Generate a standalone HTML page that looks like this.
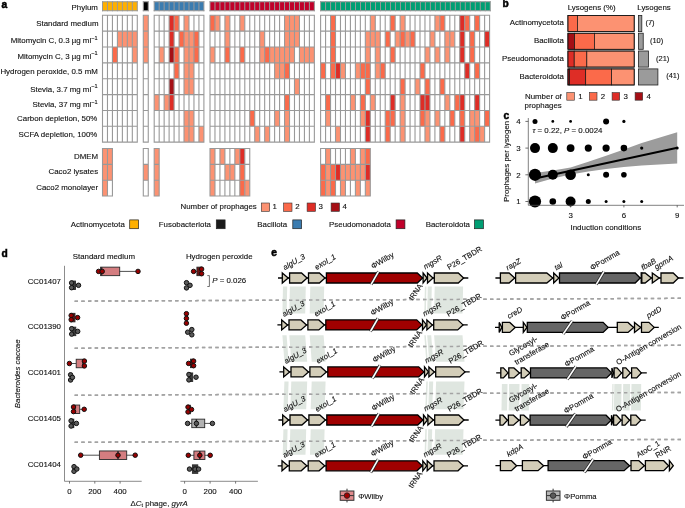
<!DOCTYPE html>
<html lang="en"><head><meta charset="utf-8"><title>Prophage induction figure</title>
<style>
html,body{margin:0;padding:0;background:#fff;}
body{width:685px;height:508px;overflow:hidden;font-family:"Liberation Sans",Arial,Helvetica,sans-serif;}
svg{display:block;}
</style></head><body>
<svg width="685" height="508" viewBox="0 0 685 508">
<rect width="685" height="508" fill="#fff"/>
<g id="panel-a">
<rect x="102.50" y="1.75" width="34.79" height="9" fill="#ffb000"/>
<path d="M102.50 1.25V11.25M107.47 1.25V11.25M112.44 1.25V11.25M117.41 1.25V11.25M122.38 1.25V11.25M127.35 1.25V11.25M132.32 1.25V11.25M137.29 1.25V11.25M102.00 1.75H137.79M102.00 10.75H137.79" stroke="#999999" stroke-width="1" fill="none"/>
<rect x="143.30" y="1.75" width="4.97" height="9" fill="#000000"/>
<path d="M143.30 1.25V11.25M148.27 1.25V11.25M142.80 1.75H148.77M142.80 10.75H148.77" stroke="#999999" stroke-width="1" fill="none"/>
<rect x="154.20" y="1.75" width="49.70" height="9" fill="#3b7cb0"/>
<path d="M154.20 1.25V11.25M159.17 1.25V11.25M164.14 1.25V11.25M169.11 1.25V11.25M174.08 1.25V11.25M179.05 1.25V11.25M184.02 1.25V11.25M188.99 1.25V11.25M193.96 1.25V11.25M198.93 1.25V11.25M203.90 1.25V11.25M153.70 1.75H204.40M153.70 10.75H204.40" stroke="#999999" stroke-width="1" fill="none"/>
<rect x="210.00" y="1.75" width="104.37" height="9" fill="#c0002a"/>
<path d="M210.00 1.25V11.25M214.97 1.25V11.25M219.94 1.25V11.25M224.91 1.25V11.25M229.88 1.25V11.25M234.85 1.25V11.25M239.82 1.25V11.25M244.79 1.25V11.25M249.76 1.25V11.25M254.73 1.25V11.25M259.70 1.25V11.25M264.67 1.25V11.25M269.64 1.25V11.25M274.61 1.25V11.25M279.58 1.25V11.25M284.55 1.25V11.25M289.52 1.25V11.25M294.49 1.25V11.25M299.46 1.25V11.25M304.43 1.25V11.25M309.40 1.25V11.25M314.37 1.25V11.25M209.50 1.75H314.87M209.50 10.75H314.87" stroke="#999999" stroke-width="1" fill="none"/>
<rect x="320.60" y="1.75" width="169.66" height="9" fill="#009e73"/>
<path d="M320.60 1.25V11.25M325.59 1.25V11.25M330.58 1.25V11.25M335.57 1.25V11.25M340.56 1.25V11.25M345.55 1.25V11.25M350.54 1.25V11.25M355.53 1.25V11.25M360.52 1.25V11.25M365.51 1.25V11.25M370.50 1.25V11.25M375.49 1.25V11.25M380.48 1.25V11.25M385.47 1.25V11.25M390.46 1.25V11.25M395.45 1.25V11.25M400.44 1.25V11.25M405.43 1.25V11.25M410.42 1.25V11.25M415.41 1.25V11.25M420.40 1.25V11.25M425.39 1.25V11.25M430.38 1.25V11.25M435.37 1.25V11.25M440.36 1.25V11.25M445.35 1.25V11.25M450.34 1.25V11.25M455.33 1.25V11.25M460.32 1.25V11.25M465.31 1.25V11.25M470.30 1.25V11.25M475.29 1.25V11.25M480.28 1.25V11.25M485.27 1.25V11.25M490.26 1.25V11.25M320.10 1.75H490.76M320.10 10.75H490.76" stroke="#999999" stroke-width="1" fill="none"/>
<rect x="102.50" y="15.30" width="34.79" height="126.85" fill="#fff"/>
<rect x="117.41" y="31.16" width="4.97" height="15.856" fill="#fc9272"/>
<rect x="122.38" y="31.16" width="4.97" height="15.856" fill="#fc9272"/>
<rect x="127.35" y="31.16" width="4.97" height="15.856" fill="#fc9272"/>
<rect x="132.32" y="31.16" width="4.97" height="15.856" fill="#fc9272"/>
<rect x="112.44" y="47.01" width="4.97" height="15.856" fill="#fb6a4a"/>
<rect x="132.32" y="47.01" width="4.97" height="15.856" fill="#fc9272"/>
<path d="M102.50 14.75V142.70M107.47 14.75V142.70M112.44 14.75V142.70M117.41 14.75V142.70M122.38 14.75V142.70M127.35 14.75V142.70M132.32 14.75V142.70M137.29 14.75V142.70M101.95 15.30H137.84M101.95 31.16H137.84M101.95 47.01H137.84M101.95 62.87H137.84M101.95 78.72H137.84M101.95 94.58H137.84M101.95 110.44H137.84M101.95 126.29H137.84M101.95 142.15H137.84" stroke="#999999" stroke-width="1.1" fill="none"/>
<rect x="102.50" y="148.50" width="9.94" height="47.57" fill="#fff"/>
<rect x="102.50" y="148.50" width="4.97" height="15.856" fill="#fc9272"/>
<rect x="107.47" y="148.50" width="4.97" height="15.856" fill="#fc9272"/>
<rect x="102.50" y="164.36" width="4.97" height="15.856" fill="#fc9272"/>
<rect x="107.47" y="164.36" width="4.97" height="15.856" fill="#fc9272"/>
<rect x="102.50" y="180.21" width="4.97" height="15.856" fill="#fc9272"/>
<path d="M102.50 147.95V196.62M107.47 147.95V196.62M112.44 147.95V196.62M101.95 148.50H112.99M101.95 164.36H112.99M101.95 180.21H112.99M101.95 196.07H112.99" stroke="#999999" stroke-width="1.1" fill="none"/>
<rect x="143.30" y="15.30" width="4.97" height="126.85" fill="#fff"/>
<rect x="143.30" y="15.30" width="4.97" height="15.856" fill="#fc9272"/>
<rect x="143.30" y="31.16" width="4.97" height="15.856" fill="#fc9272"/>
<rect x="143.30" y="47.01" width="4.97" height="15.856" fill="#fc9272"/>
<path d="M143.30 14.75V142.70M148.27 14.75V142.70M142.75 15.30H148.82M142.75 31.16H148.82M142.75 47.01H148.82M142.75 62.87H148.82M142.75 78.72H148.82M142.75 94.58H148.82M142.75 110.44H148.82M142.75 126.29H148.82M142.75 142.15H148.82" stroke="#999999" stroke-width="1.1" fill="none"/>
<rect x="143.30" y="148.50" width="4.97" height="47.57" fill="#fff"/>
<rect x="143.30" y="164.36" width="4.97" height="15.856" fill="#fc9272"/>
<path d="M143.30 147.95V196.62M148.27 147.95V196.62M142.75 148.50H148.82M142.75 164.36H148.82M142.75 180.21H148.82M142.75 196.07H148.82" stroke="#999999" stroke-width="1.1" fill="none"/>
<rect x="154.20" y="15.30" width="49.70" height="126.85" fill="#fff"/>
<rect x="169.11" y="15.30" width="4.97" height="15.856" fill="#de2d26"/>
<rect x="174.08" y="15.30" width="4.97" height="15.856" fill="#fb6a4a"/>
<rect x="184.02" y="15.30" width="4.97" height="15.856" fill="#fc9272"/>
<rect x="169.11" y="31.16" width="4.97" height="15.856" fill="#de2d26"/>
<rect x="179.05" y="31.16" width="4.97" height="15.856" fill="#fb6a4a"/>
<rect x="184.02" y="31.16" width="4.97" height="15.856" fill="#fc9272"/>
<rect x="188.99" y="31.16" width="4.97" height="15.856" fill="#fc9272"/>
<rect x="193.96" y="31.16" width="4.97" height="15.856" fill="#fb6a4a"/>
<rect x="159.17" y="47.01" width="4.97" height="15.856" fill="#fc9272"/>
<rect x="169.11" y="47.01" width="4.97" height="15.856" fill="#a50f15"/>
<rect x="174.08" y="47.01" width="4.97" height="15.856" fill="#fb6a4a"/>
<rect x="184.02" y="47.01" width="4.97" height="15.856" fill="#fc9272"/>
<rect x="188.99" y="47.01" width="4.97" height="15.856" fill="#fc9272"/>
<rect x="193.96" y="47.01" width="4.97" height="15.856" fill="#fb6a4a"/>
<rect x="174.08" y="62.87" width="4.97" height="15.856" fill="#fb6a4a"/>
<rect x="184.02" y="62.87" width="4.97" height="15.856" fill="#fc9272"/>
<rect x="188.99" y="62.87" width="4.97" height="15.856" fill="#fc9272"/>
<rect x="169.11" y="78.72" width="4.97" height="15.856" fill="#a50f15"/>
<rect x="184.02" y="78.72" width="4.97" height="15.856" fill="#fc9272"/>
<rect x="188.99" y="78.72" width="4.97" height="15.856" fill="#fc9272"/>
<rect x="154.20" y="94.58" width="4.97" height="15.856" fill="#fc9272"/>
<rect x="164.14" y="94.58" width="4.97" height="15.856" fill="#fc9272"/>
<rect x="169.11" y="94.58" width="4.97" height="15.856" fill="#de2d26"/>
<rect x="184.02" y="110.44" width="4.97" height="15.856" fill="#fc9272"/>
<rect x="188.99" y="110.44" width="4.97" height="15.856" fill="#fc9272"/>
<rect x="184.02" y="126.29" width="4.97" height="15.856" fill="#fc9272"/>
<rect x="188.99" y="126.29" width="4.97" height="15.856" fill="#fc9272"/>
<rect x="198.93" y="126.29" width="4.97" height="15.856" fill="#fc9272"/>
<path d="M154.20 14.75V142.70M159.17 14.75V142.70M164.14 14.75V142.70M169.11 14.75V142.70M174.08 14.75V142.70M179.05 14.75V142.70M184.02 14.75V142.70M188.99 14.75V142.70M193.96 14.75V142.70M198.93 14.75V142.70M203.90 14.75V142.70M153.65 15.30H204.45M153.65 31.16H204.45M153.65 47.01H204.45M153.65 62.87H204.45M153.65 78.72H204.45M153.65 94.58H204.45M153.65 110.44H204.45M153.65 126.29H204.45M153.65 142.15H204.45" stroke="#999999" stroke-width="1.1" fill="none"/>
<rect x="154.20" y="148.50" width="4.97" height="47.57" fill="#fff"/>
<rect x="154.20" y="148.50" width="4.97" height="15.856" fill="#fc9272"/>
<rect x="154.20" y="164.36" width="4.97" height="15.856" fill="#fc9272"/>
<rect x="154.20" y="180.21" width="4.97" height="15.856" fill="#fc9272"/>
<path d="M154.20 147.95V196.62M159.17 147.95V196.62M153.65 148.50H159.72M153.65 164.36H159.72M153.65 180.21H159.72M153.65 196.07H159.72" stroke="#999999" stroke-width="1.1" fill="none"/>
<rect x="210.00" y="15.30" width="104.37" height="126.85" fill="#fff"/>
<rect x="210.00" y="15.30" width="4.97" height="15.856" fill="#fb6a4a"/>
<rect x="214.97" y="15.30" width="4.97" height="15.856" fill="#fc9272"/>
<rect x="224.91" y="15.30" width="4.97" height="15.856" fill="#fc9272"/>
<rect x="239.82" y="15.30" width="4.97" height="15.856" fill="#fc9272"/>
<rect x="284.55" y="15.30" width="4.97" height="15.856" fill="#fc9272"/>
<rect x="289.52" y="15.30" width="4.97" height="15.856" fill="#fc9272"/>
<rect x="294.49" y="15.30" width="4.97" height="15.856" fill="#fc9272"/>
<rect x="224.91" y="31.16" width="4.97" height="15.856" fill="#fc9272"/>
<rect x="259.70" y="31.16" width="4.97" height="15.856" fill="#fc9272"/>
<rect x="284.55" y="31.16" width="4.97" height="15.856" fill="#fc9272"/>
<rect x="289.52" y="31.16" width="4.97" height="15.856" fill="#fc9272"/>
<rect x="294.49" y="31.16" width="4.97" height="15.856" fill="#fc9272"/>
<rect x="210.00" y="47.01" width="4.97" height="15.856" fill="#fc9272"/>
<rect x="224.91" y="47.01" width="4.97" height="15.856" fill="#fb6a4a"/>
<rect x="239.82" y="47.01" width="4.97" height="15.856" fill="#fb6a4a"/>
<rect x="259.70" y="47.01" width="4.97" height="15.856" fill="#fc9272"/>
<rect x="264.67" y="47.01" width="4.97" height="15.856" fill="#fb6a4a"/>
<rect x="269.64" y="47.01" width="4.97" height="15.856" fill="#fc9272"/>
<rect x="274.61" y="47.01" width="4.97" height="15.856" fill="#fc9272"/>
<rect x="279.58" y="47.01" width="4.97" height="15.856" fill="#fc9272"/>
<rect x="284.55" y="47.01" width="4.97" height="15.856" fill="#fc9272"/>
<rect x="289.52" y="47.01" width="4.97" height="15.856" fill="#fc9272"/>
<rect x="299.46" y="47.01" width="4.97" height="15.856" fill="#fc9272"/>
<rect x="304.43" y="47.01" width="4.97" height="15.856" fill="#fc9272"/>
<rect x="309.40" y="47.01" width="4.97" height="15.856" fill="#fc9272"/>
<rect x="274.61" y="62.87" width="4.97" height="15.856" fill="#fc9272"/>
<rect x="279.58" y="62.87" width="4.97" height="15.856" fill="#fc9272"/>
<rect x="284.55" y="62.87" width="4.97" height="15.856" fill="#fb6a4a"/>
<rect x="294.49" y="78.72" width="4.97" height="15.856" fill="#fc9272"/>
<rect x="284.55" y="94.58" width="4.97" height="15.856" fill="#fb6a4a"/>
<rect x="249.76" y="110.44" width="4.97" height="15.856" fill="#fb6a4a"/>
<rect x="274.61" y="110.44" width="4.97" height="15.856" fill="#fc9272"/>
<rect x="284.55" y="110.44" width="4.97" height="15.856" fill="#fc9272"/>
<rect x="254.73" y="126.29" width="4.97" height="15.856" fill="#fc9272"/>
<rect x="264.67" y="126.29" width="4.97" height="15.856" fill="#fc9272"/>
<rect x="284.55" y="126.29" width="4.97" height="15.856" fill="#fc9272"/>
<path d="M210.00 14.75V142.70M214.97 14.75V142.70M219.94 14.75V142.70M224.91 14.75V142.70M229.88 14.75V142.70M234.85 14.75V142.70M239.82 14.75V142.70M244.79 14.75V142.70M249.76 14.75V142.70M254.73 14.75V142.70M259.70 14.75V142.70M264.67 14.75V142.70M269.64 14.75V142.70M274.61 14.75V142.70M279.58 14.75V142.70M284.55 14.75V142.70M289.52 14.75V142.70M294.49 14.75V142.70M299.46 14.75V142.70M304.43 14.75V142.70M309.40 14.75V142.70M314.37 14.75V142.70M209.45 15.30H314.92M209.45 31.16H314.92M209.45 47.01H314.92M209.45 62.87H314.92M209.45 78.72H314.92M209.45 94.58H314.92M209.45 110.44H314.92M209.45 126.29H314.92M209.45 142.15H314.92" stroke="#999999" stroke-width="1.1" fill="none"/>
<rect x="210.00" y="148.50" width="39.76" height="47.57" fill="#fff"/>
<rect x="210.00" y="148.50" width="4.97" height="15.856" fill="#fc9272"/>
<rect x="219.94" y="148.50" width="4.97" height="15.856" fill="#fc9272"/>
<rect x="234.85" y="148.50" width="4.97" height="15.856" fill="#fc9272"/>
<rect x="239.82" y="148.50" width="4.97" height="15.856" fill="#de2d26"/>
<rect x="210.00" y="164.36" width="4.97" height="15.856" fill="#fc9272"/>
<rect x="224.91" y="164.36" width="4.97" height="15.856" fill="#fc9272"/>
<rect x="229.88" y="164.36" width="4.97" height="15.856" fill="#fc9272"/>
<rect x="239.82" y="164.36" width="4.97" height="15.856" fill="#fb6a4a"/>
<rect x="210.00" y="180.21" width="4.97" height="15.856" fill="#fc9272"/>
<rect x="239.82" y="180.21" width="4.97" height="15.856" fill="#fb6a4a"/>
<rect x="244.79" y="180.21" width="4.97" height="15.856" fill="#fc9272"/>
<path d="M210.00 147.95V196.62M214.97 147.95V196.62M219.94 147.95V196.62M224.91 147.95V196.62M229.88 147.95V196.62M234.85 147.95V196.62M239.82 147.95V196.62M244.79 147.95V196.62M249.76 147.95V196.62M209.45 148.50H250.31M209.45 164.36H250.31M209.45 180.21H250.31M209.45 196.07H250.31" stroke="#999999" stroke-width="1.1" fill="none"/>
<rect x="320.60" y="15.30" width="168.98" height="126.85" fill="#fff"/>
<rect x="330.54" y="15.30" width="4.97" height="15.856" fill="#fb6a4a"/>
<rect x="370.30" y="15.30" width="4.97" height="15.856" fill="#fc9272"/>
<rect x="390.18" y="15.30" width="4.97" height="15.856" fill="#fb6a4a"/>
<rect x="400.12" y="15.30" width="4.97" height="15.856" fill="#fc9272"/>
<rect x="434.91" y="15.30" width="4.97" height="15.856" fill="#fc9272"/>
<rect x="439.88" y="15.30" width="4.97" height="15.856" fill="#fb6a4a"/>
<rect x="459.76" y="15.30" width="4.97" height="15.856" fill="#de2d26"/>
<rect x="464.73" y="15.30" width="4.97" height="15.856" fill="#fb6a4a"/>
<rect x="474.67" y="15.30" width="4.97" height="15.856" fill="#fb6a4a"/>
<rect x="330.54" y="31.16" width="4.97" height="15.856" fill="#fb6a4a"/>
<rect x="365.33" y="31.16" width="4.97" height="15.856" fill="#fc9272"/>
<rect x="370.30" y="31.16" width="4.97" height="15.856" fill="#fc9272"/>
<rect x="375.27" y="31.16" width="4.97" height="15.856" fill="#fc9272"/>
<rect x="385.21" y="31.16" width="4.97" height="15.856" fill="#fb6a4a"/>
<rect x="395.15" y="31.16" width="4.97" height="15.856" fill="#fc9272"/>
<rect x="400.12" y="31.16" width="4.97" height="15.856" fill="#fb6a4a"/>
<rect x="405.09" y="31.16" width="4.97" height="15.856" fill="#fc9272"/>
<rect x="410.06" y="31.16" width="4.97" height="15.856" fill="#fb6a4a"/>
<rect x="429.94" y="31.16" width="4.97" height="15.856" fill="#fc9272"/>
<rect x="444.85" y="31.16" width="4.97" height="15.856" fill="#fc9272"/>
<rect x="449.82" y="31.16" width="4.97" height="15.856" fill="#fc9272"/>
<rect x="459.76" y="31.16" width="4.97" height="15.856" fill="#de2d26"/>
<rect x="469.70" y="31.16" width="4.97" height="15.856" fill="#fb6a4a"/>
<rect x="484.61" y="31.16" width="4.97" height="15.856" fill="#de2d26"/>
<rect x="330.54" y="47.01" width="4.97" height="15.856" fill="#fb6a4a"/>
<rect x="365.33" y="47.01" width="4.97" height="15.856" fill="#fc9272"/>
<rect x="375.27" y="47.01" width="4.97" height="15.856" fill="#fc9272"/>
<rect x="390.18" y="47.01" width="4.97" height="15.856" fill="#fb6a4a"/>
<rect x="424.97" y="47.01" width="4.97" height="15.856" fill="#fc9272"/>
<rect x="434.91" y="47.01" width="4.97" height="15.856" fill="#fc9272"/>
<rect x="444.85" y="47.01" width="4.97" height="15.856" fill="#fc9272"/>
<rect x="459.76" y="47.01" width="4.97" height="15.856" fill="#de2d26"/>
<rect x="469.70" y="47.01" width="4.97" height="15.856" fill="#fb6a4a"/>
<rect x="320.60" y="62.87" width="4.97" height="15.856" fill="#fb6a4a"/>
<rect x="330.54" y="62.87" width="4.97" height="15.856" fill="#fb6a4a"/>
<rect x="335.51" y="62.87" width="4.97" height="15.856" fill="#de2d26"/>
<rect x="340.48" y="62.87" width="4.97" height="15.856" fill="#fc9272"/>
<rect x="355.39" y="62.87" width="4.97" height="15.856" fill="#fc9272"/>
<rect x="360.36" y="62.87" width="4.97" height="15.856" fill="#fb6a4a"/>
<rect x="365.33" y="62.87" width="4.97" height="15.856" fill="#fb6a4a"/>
<rect x="375.27" y="62.87" width="4.97" height="15.856" fill="#fc9272"/>
<rect x="380.24" y="62.87" width="4.97" height="15.856" fill="#fb6a4a"/>
<rect x="420.00" y="62.87" width="4.97" height="15.856" fill="#fb6a4a"/>
<rect x="464.73" y="62.87" width="4.97" height="15.856" fill="#de2d26"/>
<rect x="474.67" y="62.87" width="4.97" height="15.856" fill="#fb6a4a"/>
<rect x="365.33" y="78.72" width="4.97" height="15.856" fill="#fb6a4a"/>
<rect x="400.12" y="78.72" width="4.97" height="15.856" fill="#fb6a4a"/>
<rect x="415.03" y="78.72" width="4.97" height="15.856" fill="#fc9272"/>
<rect x="424.97" y="78.72" width="4.97" height="15.856" fill="#fb6a4a"/>
<rect x="439.88" y="78.72" width="4.97" height="15.856" fill="#fb6a4a"/>
<rect x="325.57" y="94.58" width="4.97" height="15.856" fill="#fb6a4a"/>
<rect x="350.42" y="94.58" width="4.97" height="15.856" fill="#fc9272"/>
<rect x="360.36" y="94.58" width="4.97" height="15.856" fill="#fb6a4a"/>
<rect x="370.30" y="94.58" width="4.97" height="15.856" fill="#fc9272"/>
<rect x="390.18" y="94.58" width="4.97" height="15.856" fill="#de2d26"/>
<rect x="400.12" y="94.58" width="4.97" height="15.856" fill="#fc9272"/>
<rect x="420.00" y="94.58" width="4.97" height="15.856" fill="#de2d26"/>
<rect x="424.97" y="94.58" width="4.97" height="15.856" fill="#de2d26"/>
<rect x="444.85" y="94.58" width="4.97" height="15.856" fill="#fc9272"/>
<rect x="454.79" y="94.58" width="4.97" height="15.856" fill="#fb6a4a"/>
<rect x="459.76" y="94.58" width="4.97" height="15.856" fill="#de2d26"/>
<rect x="474.67" y="94.58" width="4.97" height="15.856" fill="#de2d26"/>
<rect x="325.57" y="110.44" width="4.97" height="15.856" fill="#fc9272"/>
<rect x="360.36" y="110.44" width="4.97" height="15.856" fill="#fc9272"/>
<rect x="365.33" y="110.44" width="4.97" height="15.856" fill="#de2d26"/>
<rect x="385.21" y="110.44" width="4.97" height="15.856" fill="#fb6a4a"/>
<rect x="390.18" y="110.44" width="4.97" height="15.856" fill="#fb6a4a"/>
<rect x="400.12" y="110.44" width="4.97" height="15.856" fill="#fc9272"/>
<rect x="420.00" y="110.44" width="4.97" height="15.856" fill="#fb6a4a"/>
<rect x="424.97" y="110.44" width="4.97" height="15.856" fill="#fc9272"/>
<rect x="434.91" y="110.44" width="4.97" height="15.856" fill="#fc9272"/>
<rect x="449.82" y="110.44" width="4.97" height="15.856" fill="#fb6a4a"/>
<rect x="459.76" y="110.44" width="4.97" height="15.856" fill="#fb6a4a"/>
<rect x="469.70" y="110.44" width="4.97" height="15.856" fill="#fc9272"/>
<rect x="474.67" y="110.44" width="4.97" height="15.856" fill="#fc9272"/>
<rect x="484.61" y="110.44" width="4.97" height="15.856" fill="#fb6a4a"/>
<rect x="335.51" y="126.29" width="4.97" height="15.856" fill="#fc9272"/>
<rect x="365.33" y="126.29" width="4.97" height="15.856" fill="#de2d26"/>
<rect x="385.21" y="126.29" width="4.97" height="15.856" fill="#fb6a4a"/>
<rect x="400.12" y="126.29" width="4.97" height="15.856" fill="#fc9272"/>
<rect x="424.97" y="126.29" width="4.97" height="15.856" fill="#fc9272"/>
<rect x="439.88" y="126.29" width="4.97" height="15.856" fill="#fb6a4a"/>
<rect x="459.76" y="126.29" width="4.97" height="15.856" fill="#de2d26"/>
<rect x="469.70" y="126.29" width="4.97" height="15.856" fill="#fc9272"/>
<rect x="474.67" y="126.29" width="4.97" height="15.856" fill="#fb6a4a"/>
<rect x="479.64" y="126.29" width="4.97" height="15.856" fill="#fc9272"/>
<path d="M320.60 14.75V142.70M325.57 14.75V142.70M330.54 14.75V142.70M335.51 14.75V142.70M340.48 14.75V142.70M345.45 14.75V142.70M350.42 14.75V142.70M355.39 14.75V142.70M360.36 14.75V142.70M365.33 14.75V142.70M370.30 14.75V142.70M375.27 14.75V142.70M380.24 14.75V142.70M385.21 14.75V142.70M390.18 14.75V142.70M395.15 14.75V142.70M400.12 14.75V142.70M405.09 14.75V142.70M410.06 14.75V142.70M415.03 14.75V142.70M420.00 14.75V142.70M424.97 14.75V142.70M429.94 14.75V142.70M434.91 14.75V142.70M439.88 14.75V142.70M444.85 14.75V142.70M449.82 14.75V142.70M454.79 14.75V142.70M459.76 14.75V142.70M464.73 14.75V142.70M469.70 14.75V142.70M474.67 14.75V142.70M479.64 14.75V142.70M484.61 14.75V142.70M489.58 14.75V142.70M320.05 15.30H490.13M320.05 31.16H490.13M320.05 47.01H490.13M320.05 62.87H490.13M320.05 78.72H490.13M320.05 94.58H490.13M320.05 110.44H490.13M320.05 126.29H490.13M320.05 142.15H490.13" stroke="#999999" stroke-width="1.1" fill="none"/>
<rect x="320.60" y="148.50" width="49.70" height="47.57" fill="#fff"/>
<rect x="325.57" y="148.50" width="4.97" height="15.856" fill="#fc9272"/>
<rect x="350.42" y="148.50" width="4.97" height="15.856" fill="#fc9272"/>
<rect x="360.36" y="148.50" width="4.97" height="15.856" fill="#fc9272"/>
<rect x="365.33" y="148.50" width="4.97" height="15.856" fill="#fb6a4a"/>
<rect x="320.60" y="164.36" width="4.97" height="15.856" fill="#fb6a4a"/>
<rect x="325.57" y="164.36" width="4.97" height="15.856" fill="#fc9272"/>
<rect x="330.54" y="164.36" width="4.97" height="15.856" fill="#fb6a4a"/>
<rect x="335.51" y="164.36" width="4.97" height="15.856" fill="#de2d26"/>
<rect x="340.48" y="164.36" width="4.97" height="15.856" fill="#fc9272"/>
<rect x="345.45" y="164.36" width="4.97" height="15.856" fill="#fc9272"/>
<rect x="350.42" y="164.36" width="4.97" height="15.856" fill="#fc9272"/>
<rect x="355.39" y="164.36" width="4.97" height="15.856" fill="#fc9272"/>
<rect x="360.36" y="164.36" width="4.97" height="15.856" fill="#fc9272"/>
<rect x="365.33" y="164.36" width="4.97" height="15.856" fill="#de2d26"/>
<rect x="320.60" y="180.21" width="4.97" height="15.856" fill="#fb6a4a"/>
<rect x="325.57" y="180.21" width="4.97" height="15.856" fill="#fc9272"/>
<rect x="330.54" y="180.21" width="4.97" height="15.856" fill="#fb6a4a"/>
<rect x="340.48" y="180.21" width="4.97" height="15.856" fill="#fc9272"/>
<rect x="355.39" y="180.21" width="4.97" height="15.856" fill="#fc9272"/>
<rect x="365.33" y="180.21" width="4.97" height="15.856" fill="#fc9272"/>
<path d="M320.60 147.95V196.62M325.57 147.95V196.62M330.54 147.95V196.62M335.51 147.95V196.62M340.48 147.95V196.62M345.45 147.95V196.62M350.42 147.95V196.62M355.39 147.95V196.62M360.36 147.95V196.62M365.33 147.95V196.62M370.30 147.95V196.62M320.05 148.50H370.85M320.05 164.36H370.85M320.05 180.21H370.85M320.05 196.07H370.85" stroke="#999999" stroke-width="1.1" fill="none"/>
<g font-family="Liberation Sans, Arial, Helvetica, sans-serif" font-size="7.9" fill="#111" stroke="#111" stroke-width="0.12" text-anchor="end">
<text x="97.9" y="9.7">Phylum</text>
<text x="98.5" y="25.7">Standard medium</text>
<text x="97.6" y="43.1">Mitomycin C, 0.3 µg ml<tspan dy="-3.6" font-size="5.6">−1</tspan></text>
<text x="97.6" y="58.7">Mitomycin C, 3 µg ml<tspan dy="-3.6" font-size="5.6">−1</tspan></text>
<text x="97.8" y="73.7">Hydrogen peroxide, 0.5 mM</text>
<text x="97.6" y="91.7">Stevia, 3.7 mg ml<tspan dy="-3.6" font-size="5.6">−1</tspan></text>
<text x="97.6" y="107.4">Stevia, 37 mg ml<tspan dy="-3.6" font-size="5.6">−1</tspan></text>
<text x="97.4" y="121.3">Carbon depletion, 50%</text>
<text x="97.4" y="136.9">SCFA depletion, 100%</text>
<text x="98.1" y="159.3">DMEM</text>
<text x="98.1" y="174.3">Caco2 lysates</text>
<text x="98.1" y="190.0">Caco2 monolayer</text>
</g>
<text x="1.6" y="8" font-family="Liberation Sans, Arial, Helvetica, sans-serif" font-size="10.2" font-weight="bold" fill="#000" stroke="#000" stroke-width="0.5">a</text>
<g font-family="Liberation Sans, Arial, Helvetica, sans-serif" font-size="7.9" fill="#111" stroke="#111" stroke-width="0.12">
<text x="256.8" y="209.3" text-anchor="end">Number of prophages</text>
<rect x="261.3" y="203" width="8.4" height="8.4" fill="#fc9272" stroke="#333" stroke-width="0.6"/>
<text x="272.6" y="209.4">1</text>
<rect x="283.6" y="203" width="8.4" height="8.4" fill="#fb6a4a" stroke="#333" stroke-width="0.6"/>
<text x="295.2" y="209.4">2</text>
<rect x="307.1" y="203" width="8.4" height="8.4" fill="#de2d26" stroke="#333" stroke-width="0.6"/>
<text x="318.4" y="209.4">3</text>
<rect x="331.1" y="203" width="8.4" height="8.4" fill="#a50f15" stroke="#333" stroke-width="0.6"/>
<text x="342.6" y="209.4">4</text>
<text x="124.8" y="226.9" text-anchor="end">Actinomycetota</text>
<rect x="129.7" y="219.9" width="8.8" height="8.8" fill="#ffb000" stroke="#222" stroke-width="0.7"/>
<text x="211" y="226.9" text-anchor="end">Fusobacteriota</text>
<rect x="216.3" y="219.9" width="8.8" height="8.8" fill="#1a1a1a" stroke="#222" stroke-width="0.7"/>
<text x="287.2" y="226.9" text-anchor="end">Bacillota</text>
<rect x="292.8" y="219.9" width="8.8" height="8.8" fill="#3b7cb0" stroke="#222" stroke-width="0.7"/>
<text x="390.9" y="226.9" text-anchor="end">Pseudomonadota</text>
<rect x="396.1" y="219.9" width="8.8" height="8.8" fill="#c0002a" stroke="#222" stroke-width="0.7"/>
<text x="470" y="226.9" text-anchor="end">Bacteroidota</text>
<rect x="474.6" y="219.9" width="8.8" height="8.8" fill="#009e73" stroke="#222" stroke-width="0.7"/>
</g>
</g>
<g id="panel-b">
<text x="502.6" y="7.4" font-family="Liberation Sans, Arial, Helvetica, sans-serif" font-size="10.2" font-weight="bold" fill="#000" stroke="#000" stroke-width="0.5">b</text>
<g font-family="Liberation Sans, Arial, Helvetica, sans-serif" font-size="7.9" fill="#111" stroke="#111" stroke-width="0.12">
<text x="567.7" y="10.2">Lysogens (%)</text>
<text x="637.3" y="10.2">Lysogens</text>
<rect x="567.90" y="15.5" width="9.47" height="16.1" fill="#fb6a4a" stroke="#111" stroke-width="0.7"/>
<rect x="577.37" y="15.5" width="56.83" height="16.1" fill="#fc9272" stroke="#111" stroke-width="0.7"/>
<rect x="567.90" y="15.5" width="66.30" height="16.1" fill="none" stroke="#111" stroke-width="0.75"/>
<rect x="638.5" y="15.5" width="3.31" height="16.1" fill="#9b9b9b" stroke="#222" stroke-width="0.8"/>
<text x="563.8" y="25.25" text-anchor="end">Actinomycetota</text>
<text x="645.4" y="25.05" font-size="7.5">(7)</text>
<rect x="567.90" y="33.2" width="6.63" height="16.1" fill="#a50f15" stroke="#111" stroke-width="0.7"/>
<rect x="574.53" y="33.2" width="19.89" height="16.1" fill="#fb6a4a" stroke="#111" stroke-width="0.7"/>
<rect x="594.42" y="33.2" width="39.78" height="16.1" fill="#fc9272" stroke="#111" stroke-width="0.7"/>
<rect x="567.90" y="33.2" width="66.30" height="16.1" fill="none" stroke="#111" stroke-width="0.75"/>
<rect x="638.5" y="33.2" width="4.73" height="16.1" fill="#9b9b9b" stroke="#222" stroke-width="0.8"/>
<text x="563.8" y="42.95" text-anchor="end">Bacillota</text>
<text x="649.9" y="42.75" font-size="7.5">(10)</text>
<rect x="567.90" y="51.0" width="6.31" height="16.1" fill="#de2d26" stroke="#111" stroke-width="0.7"/>
<rect x="574.21" y="51.0" width="12.63" height="16.1" fill="#fb6a4a" stroke="#111" stroke-width="0.7"/>
<rect x="586.84" y="51.0" width="47.36" height="16.1" fill="#fc9272" stroke="#111" stroke-width="0.7"/>
<rect x="567.90" y="51.0" width="66.30" height="16.1" fill="none" stroke="#111" stroke-width="0.75"/>
<rect x="638.5" y="51.0" width="9.93" height="16.1" fill="#9b9b9b" stroke="#222" stroke-width="0.8"/>
<text x="563.8" y="60.75" text-anchor="end">Pseudomonadota</text>
<text x="656" y="60.55" font-size="7.5">(21)</text>
<rect x="567.90" y="68.9" width="1.62" height="16.1" fill="#a50f15" stroke="#111" stroke-width="0.7"/>
<rect x="569.52" y="68.9" width="16.17" height="16.1" fill="#de2d26" stroke="#111" stroke-width="0.7"/>
<rect x="585.69" y="68.9" width="25.87" height="16.1" fill="#fb6a4a" stroke="#111" stroke-width="0.7"/>
<rect x="611.56" y="68.9" width="22.64" height="16.1" fill="#fc9272" stroke="#111" stroke-width="0.7"/>
<rect x="567.90" y="68.9" width="66.30" height="16.1" fill="none" stroke="#111" stroke-width="0.75"/>
<rect x="638.5" y="68.9" width="19.39" height="16.1" fill="#9b9b9b" stroke="#222" stroke-width="0.8"/>
<text x="563.8" y="78.65" text-anchor="end">Bacteroidota</text>
<text x="666.2" y="78.45" font-size="7.5">(41)</text>
<text x="561.8" y="98.6" text-anchor="end">Number of</text>
<text x="561.8" y="108.0" text-anchor="end">prophages</text>
<rect x="566.8" y="92.6" width="7.6" height="7.6" fill="#fc9272" stroke="#333" stroke-width="0.6"/>
<text x="578.2" y="98.7">1</text>
<rect x="589.4" y="92.6" width="7.6" height="7.6" fill="#fb6a4a" stroke="#333" stroke-width="0.6"/>
<text x="600.8" y="98.7">2</text>
<rect x="612.1" y="92.6" width="7.6" height="7.6" fill="#de2d26" stroke="#333" stroke-width="0.6"/>
<text x="623.4" y="98.7">3</text>
<rect x="635.1" y="92.6" width="7.6" height="7.6" fill="#a50f15" stroke="#333" stroke-width="0.6"/>
<text x="646.4" y="98.7">4</text>
</g></g>
<g id="panel-c">
<text x="503.6" y="118.6" font-family="Liberation Sans, Arial, Helvetica, sans-serif" font-size="10.2" font-weight="bold" fill="#000" stroke="#000" stroke-width="0.5">c</text>
<polygon points="535.0,173 552.8,170.6 570.6,167.6 588.3,161.8 606.1,155.8 623.9,149.4 641.7,143 677.2,132.2 677.2,163.5 641.7,165.4 623.9,167 606.1,169 588.3,171.4 570.6,174.5 552.8,178.6 535.0,183.5" fill="#9c9c9c"/>
<line x1="535" y1="178.6" x2="677.4" y2="147.8" stroke="#000" stroke-width="2"/>
<circle cx="535.0" cy="121.4" r="2.5" fill="#000"/>
<circle cx="552.8" cy="121.4" r="1.4" fill="#000"/>
<circle cx="570.6" cy="121.4" r="1.4" fill="#000"/>
<circle cx="606.1" cy="121.4" r="3.0" fill="#000"/>
<circle cx="623.9" cy="121.4" r="1.6" fill="#000"/>
<circle cx="535.0" cy="148.1" r="5" fill="#000"/>
<circle cx="552.8" cy="148.1" r="5" fill="#000"/>
<circle cx="570.6" cy="148.1" r="3.9" fill="#000"/>
<circle cx="588.3" cy="148.1" r="3.6" fill="#000"/>
<circle cx="606.1" cy="148.1" r="3.6" fill="#000"/>
<circle cx="623.9" cy="148.1" r="3.3" fill="#000"/>
<circle cx="641.7" cy="148.1" r="1.6" fill="#000"/>
<circle cx="677.2" cy="148.1" r="1.5" fill="#000"/>
<circle cx="535.0" cy="174.8" r="6.1" fill="#000"/>
<circle cx="552.8" cy="174.8" r="5" fill="#000"/>
<circle cx="570.6" cy="174.8" r="5.3" fill="#000"/>
<circle cx="588.3" cy="174.8" r="1.5" fill="#000"/>
<circle cx="606.1" cy="174.8" r="3.0" fill="#000"/>
<circle cx="623.9" cy="174.8" r="2.8" fill="#000"/>
<circle cx="535.0" cy="201.5" r="6.1" fill="#000"/>
<circle cx="552.8" cy="201.5" r="3.3" fill="#000"/>
<circle cx="570.6" cy="201.5" r="5" fill="#000"/>
<circle cx="588.3" cy="201.5" r="2.5" fill="#000"/>
<circle cx="606.1" cy="201.5" r="1.5" fill="#000"/>
<circle cx="623.9" cy="201.5" r="1.5" fill="#000"/>
<circle cx="641.7" cy="201.5" r="1.5" fill="#000"/>
<path d="M528.3 118V205.3H684" stroke="#555" stroke-width="0.75" fill="none"/>
<path d="M525.4 201.5H528.3M525.4 174.8H528.3M525.4 148.1H528.3M525.4 121.4H528.3M570.6 205.3V207.4M623.9 205.3V207.4M677.2 205.3V207.4" stroke="#333" stroke-width="0.7" fill="none"/>
<g font-family="Liberation Sans, Arial, Helvetica, sans-serif" font-size="7.9" fill="#111" stroke="#111" stroke-width="0.12">
<text x="520.6" y="204.4" text-anchor="end">1</text>
<text x="520.6" y="177.7" text-anchor="end">2</text>
<text x="520.6" y="151.0" text-anchor="end">3</text>
<text x="520.6" y="124.3" text-anchor="end">4</text>
<text x="570.6" y="217.9" text-anchor="middle">3</text>
<text x="623.9" y="217.9" text-anchor="middle">6</text>
<text x="677.2" y="217.9" text-anchor="middle">9</text>
<text x="605.8" y="230.4" text-anchor="middle" font-size="8">Induction conditions</text>
<text transform="translate(509.4,161.4) rotate(-90)" text-anchor="middle">Prophages per lysogen</text>
<text x="532.4" y="132.9"><tspan font-style="italic">τ</tspan> = 0.22, <tspan font-style="italic">P</tspan> = 0.0024</text>
</g></g>
<g id="dashes">
<line x1="74.6" y1="301.2" x2="683" y2="298.3" stroke="#a3a3a3" stroke-width="1.5" stroke-dasharray="3.4 3.3"/>
<line x1="74.6" y1="348.2" x2="683" y2="345.3" stroke="#a3a3a3" stroke-width="1.5" stroke-dasharray="3.4 3.3"/>
<line x1="74.6" y1="395.3" x2="683" y2="392.4" stroke="#a3a3a3" stroke-width="1.5" stroke-dasharray="3.4 3.3"/>
<line x1="74.6" y1="442.3" x2="683" y2="439.4" stroke="#a3a3a3" stroke-width="1.5" stroke-dasharray="3.4 3.3"/>
</g>
<g id="panel-d">
<text x="1.5" y="256.7" font-family="Liberation Sans, Arial, Helvetica, sans-serif" font-size="10.2" font-weight="bold" fill="#000" stroke="#000" stroke-width="0.5">d</text>
<path d="M64.5 265.8V481.3H141.7" stroke="#6e6e6e" stroke-width="0.8" fill="none"/>
<path d="M180.4 481.3H257.9" stroke="#6e6e6e" stroke-width="0.8" fill="none"/>
<path d="M69.5 481.3V483.6M94.8 481.3V483.6M120.1 481.3V483.6M184.6 481.3V483.6M210.1 481.3V483.6M235.6 481.3V483.6" stroke="#555" stroke-width="0.8" fill="none"/>
<g font-family="Liberation Sans, Arial, Helvetica, sans-serif" font-size="7.9" fill="#111" stroke="#111" stroke-width="0.12">
<text x="69.5" y="494.1" text-anchor="middle">0</text>
<text x="94.8" y="494.1" text-anchor="middle">200</text>
<text x="120.1" y="494.1" text-anchor="middle">400</text>
<text x="184.6" y="494.1" text-anchor="middle">0</text>
<text x="210.1" y="494.1" text-anchor="middle">200</text>
<text x="235.6" y="494.1" text-anchor="middle">400</text>
<text x="72.7" y="258.7">Standard medium</text>
<text x="185.9" y="258.7">Hydrogen peroxide</text>
<text x="61" y="283.9" text-anchor="end">CC01407</text>
<text x="61" y="329.4" text-anchor="end">CC01390</text>
<text x="61" y="375.1" text-anchor="end">CC01401</text>
<text x="61" y="421.0" text-anchor="end">CC01405</text>
<text x="61" y="466.5" text-anchor="end">CC01404</text>
<text transform="translate(20.3,373.8) rotate(-90)" text-anchor="middle" font-style="italic">Bacteroides caccae</text>
<text x="130.5" y="505.6">Δ<tspan font-style="italic">C</tspan><tspan dy="1.8" font-size="5.6">t</tspan><tspan dy="-1.8"> phage, </tspan><tspan font-style="italic">gyrA</tspan></text>
<text x="212.2" y="283.2"><tspan font-style="italic">P</tspan> = 0.026</text>
</g>
<path d="M207.3 275.6H209.4V286.5H207.3" stroke="#333" stroke-width="0.7" fill="none"/>
<line x1="98.6" y1="271.4" x2="138" y2="271.4" stroke="#222" stroke-width="0.8"/>
<rect x="100.6" y="267.15" width="19.1" height="8.5" fill="#d47d80" stroke="#2a2a2a" stroke-width="0.9"/>
<line x1="101.6" y1="267.15" x2="101.6" y2="275.65" stroke="#2a2a2a" stroke-width="1.5"/>
<circle cx="98.6" cy="271.4" r="2.25" fill="#980000" stroke="#111" stroke-width="1"/>
<circle cx="102.2" cy="271.4" r="2.25" fill="#980000" stroke="#111" stroke-width="1"/>
<circle cx="138" cy="271.4" r="2.25" fill="#980000" stroke="#111" stroke-width="1"/>
<rect x="71.1" y="281.05" width="4.4" height="8.5" fill="#3c3c3c" stroke="#2a2a2a" stroke-width="0.9"/>
<circle cx="71.6" cy="282.9" r="2.25" fill="#5a5a5a" stroke="#111" stroke-width="1"/>
<circle cx="71.6" cy="287.7" r="2.25" fill="#5a5a5a" stroke="#111" stroke-width="1"/>
<circle cx="78.5" cy="285.3" r="2.25" fill="#5a5a5a" stroke="#111" stroke-width="1"/>
<rect x="70.8" y="313.35" width="4.2" height="8.5" fill="#6a1414" stroke="#2a2a2a" stroke-width="0.9"/>
<circle cx="71.2" cy="315.5" r="2.25" fill="#980000" stroke="#111" stroke-width="1"/>
<circle cx="71.2" cy="319.7" r="2.25" fill="#980000" stroke="#111" stroke-width="1"/>
<circle cx="77.6" cy="317.6" r="2.25" fill="#980000" stroke="#111" stroke-width="1"/>
<rect x="71.1" y="327.15" width="4.7" height="8.5" fill="#3c3c3c" stroke="#2a2a2a" stroke-width="0.9"/>
<circle cx="71.7" cy="328.7" r="2.25" fill="#5a5a5a" stroke="#111" stroke-width="1"/>
<circle cx="71.7" cy="334.1" r="2.25" fill="#5a5a5a" stroke="#111" stroke-width="1"/>
<circle cx="77.7" cy="331.4" r="2.25" fill="#5a5a5a" stroke="#111" stroke-width="1"/>
<line x1="69.4" y1="363.5" x2="76.2" y2="363.5" stroke="#222" stroke-width="0.8"/>
<rect x="76.2" y="359.25" width="7.6" height="8.5" fill="#d47d80" stroke="#2a2a2a" stroke-width="0.9"/>
<line x1="83.0" y1="359.25" x2="83.0" y2="367.75" stroke="#2a2a2a" stroke-width="1.5"/>
<circle cx="69.4" cy="363.5" r="2.25" fill="#980000" stroke="#111" stroke-width="1"/>
<circle cx="84.4" cy="361.1" r="2.25" fill="#980000" stroke="#111" stroke-width="1"/>
<circle cx="84.4" cy="365.9" r="2.25" fill="#980000" stroke="#111" stroke-width="1"/>
<circle cx="70.6" cy="374.8" r="2.25" fill="#5a5a5a" stroke="#111" stroke-width="1"/>
<circle cx="70.6" cy="380.0" r="2.25" fill="#5a5a5a" stroke="#111" stroke-width="1"/>
<circle cx="72.4" cy="377.4" r="2.25" fill="#5a5a5a" stroke="#111" stroke-width="1"/>
<line x1="79.7" y1="409.3" x2="84.2" y2="409.3" stroke="#222" stroke-width="0.8"/>
<rect x="73.8" y="405.05" width="5.9" height="8.5" fill="#d47d80" stroke="#2a2a2a" stroke-width="0.9"/>
<line x1="74.8" y1="405.05" x2="74.8" y2="413.55" stroke="#2a2a2a" stroke-width="1.5"/>
<circle cx="73.5" cy="407.0" r="2.25" fill="#980000" stroke="#111" stroke-width="1"/>
<circle cx="73.5" cy="411.6" r="2.25" fill="#980000" stroke="#111" stroke-width="1"/>
<circle cx="84.2" cy="409.3" r="2.25" fill="#980000" stroke="#111" stroke-width="1"/>
<rect x="70.8" y="419.15" width="3.0" height="8.5" fill="#3c3c3c" stroke="#2a2a2a" stroke-width="0.9"/>
<circle cx="71.1" cy="420.8" r="2.25" fill="#5a5a5a" stroke="#111" stroke-width="1"/>
<circle cx="71.1" cy="426.0" r="2.25" fill="#5a5a5a" stroke="#111" stroke-width="1"/>
<circle cx="76.4" cy="423.4" r="2.25" fill="#5a5a5a" stroke="#111" stroke-width="1"/>
<line x1="80.7" y1="455.2" x2="135.2" y2="455.2" stroke="#222" stroke-width="0.8"/>
<rect x="99.4" y="450.95" width="27.3" height="8.5" fill="#d47d80" stroke="#2a2a2a" stroke-width="0.9"/>
<line x1="118.0" y1="450.95" x2="118.0" y2="459.45" stroke="#2a2a2a" stroke-width="1.5"/>
<circle cx="80.7" cy="455.2" r="2.25" fill="#980000" stroke="#111" stroke-width="1"/>
<circle cx="118.0" cy="455.2" r="2.25" fill="#980000" stroke="#111" stroke-width="1"/>
<circle cx="135.2" cy="455.2" r="2.25" fill="#980000" stroke="#111" stroke-width="1"/>
<circle cx="74.0" cy="466.7" r="2.25" fill="#5a5a5a" stroke="#111" stroke-width="1"/>
<circle cx="74.0" cy="471.3" r="2.25" fill="#5a5a5a" stroke="#111" stroke-width="1"/>
<circle cx="76.8" cy="469.0" r="2.25" fill="#5a5a5a" stroke="#111" stroke-width="1"/>
<line x1="193.6" y1="271.4" x2="197" y2="271.4" stroke="#222" stroke-width="0.8"/>
<rect x="196.9" y="267.15" width="4.1" height="8.5" fill="#6a1414" stroke="#2a2a2a" stroke-width="0.9"/>
<circle cx="193.6" cy="271.4" r="2.25" fill="#980000" stroke="#111" stroke-width="1"/>
<circle cx="201.6" cy="269.1" r="2.25" fill="#980000" stroke="#111" stroke-width="1"/>
<circle cx="201.6" cy="273.7" r="2.25" fill="#980000" stroke="#111" stroke-width="1"/>
<circle cx="186.5" cy="282.7" r="2.25" fill="#5a5a5a" stroke="#111" stroke-width="1"/>
<circle cx="186.5" cy="287.9" r="2.25" fill="#5a5a5a" stroke="#111" stroke-width="1"/>
<circle cx="190.0" cy="285.3" r="2.25" fill="#5a5a5a" stroke="#111" stroke-width="1"/>
<line x1="186.8" y1="314.3" x2="186.8" y2="322.9" stroke="#2a2a2a" stroke-width="1.2"/>
<circle cx="186.4" cy="313.7" r="2.25" fill="#980000" stroke="#111" stroke-width="1"/>
<circle cx="186.4" cy="318.4" r="2.25" fill="#980000" stroke="#111" stroke-width="1"/>
<circle cx="186.4" cy="323.2" r="2.25" fill="#980000" stroke="#111" stroke-width="1"/>
<circle cx="187.7" cy="332.2" r="2.25" fill="#5a5a5a" stroke="#111" stroke-width="1"/>
<circle cx="191.8" cy="329.6" r="2.25" fill="#5a5a5a" stroke="#111" stroke-width="1"/>
<circle cx="191.8" cy="334.8" r="2.25" fill="#5a5a5a" stroke="#111" stroke-width="1"/>
<rect x="190.5" y="359.15" width="2.8" height="8.5" fill="#6a1414" stroke="#2a2a2a" stroke-width="0.9"/>
<circle cx="188.6" cy="363.4" r="2.25" fill="#980000" stroke="#111" stroke-width="1"/>
<circle cx="193.6" cy="361.1" r="2.25" fill="#980000" stroke="#111" stroke-width="1"/>
<circle cx="193.6" cy="365.7" r="2.25" fill="#980000" stroke="#111" stroke-width="1"/>
<rect x="188.6" y="372.95" width="4.1" height="8.5" fill="#3c3c3c" stroke="#2a2a2a" stroke-width="0.9"/>
<circle cx="188.9" cy="374.5" r="2.25" fill="#5a5a5a" stroke="#111" stroke-width="1"/>
<circle cx="188.9" cy="379.9" r="2.25" fill="#5a5a5a" stroke="#111" stroke-width="1"/>
<circle cx="196.0" cy="377.2" r="2.25" fill="#5a5a5a" stroke="#111" stroke-width="1"/>
<rect x="188.3" y="405.25" width="2.1" height="8.5" fill="#6a1414" stroke="#2a2a2a" stroke-width="0.9"/>
<circle cx="188.0" cy="407.1" r="2.25" fill="#980000" stroke="#111" stroke-width="1"/>
<circle cx="188.0" cy="411.9" r="2.25" fill="#980000" stroke="#111" stroke-width="1"/>
<circle cx="191.5" cy="409.5" r="2.25" fill="#980000" stroke="#111" stroke-width="1"/>
<line x1="187.6" y1="423.4" x2="212.4" y2="423.4" stroke="#222" stroke-width="0.8"/>
<rect x="191.8" y="419.15" width="12.9" height="8.5" fill="#b2b2b2" stroke="#2a2a2a" stroke-width="0.9"/>
<line x1="196.4" y1="419.15" x2="196.4" y2="427.65" stroke="#2a2a2a" stroke-width="1.5"/>
<circle cx="187.6" cy="423.4" r="2.25" fill="#5a5a5a" stroke="#111" stroke-width="1"/>
<circle cx="196.4" cy="423.4" r="2.25" fill="#5a5a5a" stroke="#111" stroke-width="1"/>
<circle cx="212.4" cy="423.4" r="2.25" fill="#5a5a5a" stroke="#111" stroke-width="1"/>
<line x1="188.3" y1="455.3" x2="210.2" y2="455.3" stroke="#222" stroke-width="0.8"/>
<rect x="193.9" y="451.05" width="11.0" height="8.5" fill="#d47d80" stroke="#2a2a2a" stroke-width="0.9"/>
<line x1="199.8" y1="451.05" x2="199.8" y2="459.55" stroke="#2a2a2a" stroke-width="1.5"/>
<circle cx="188.3" cy="455.3" r="2.25" fill="#980000" stroke="#111" stroke-width="1"/>
<circle cx="199.8" cy="455.3" r="2.25" fill="#980000" stroke="#111" stroke-width="1"/>
<circle cx="210.2" cy="455.3" r="2.25" fill="#980000" stroke="#111" stroke-width="1"/>
<line x1="189.5" y1="469.1" x2="198.6" y2="469.1" stroke="#222" stroke-width="0.8"/>
<rect x="192.4" y="464.85" width="5.4" height="8.5" fill="#3c3c3c" stroke="#2a2a2a" stroke-width="0.9"/>
<circle cx="189.5" cy="469.1" r="2.25" fill="#5a5a5a" stroke="#111" stroke-width="1"/>
<circle cx="195.1" cy="469.1" r="2.25" fill="#5a5a5a" stroke="#111" stroke-width="1"/>
<circle cx="198.6" cy="469.1" r="2.25" fill="#5a5a5a" stroke="#111" stroke-width="1"/>
</g>
<g id="panel-e">
<text x="271.2" y="256.2" font-family="Liberation Sans, Arial, Helvetica, sans-serif" font-size="10.2" font-weight="bold" fill="#000" stroke="#000" stroke-width="0.5">e</text>
<polygon points="283.0,286.5 287.2,286.5 286.6,313.4 282.4,313.4" fill="#dfe6e0"/>
<polygon points="289.9,286.5 305.8,286.5 305.2,313.4 289.3,313.4" fill="#dfe6e0"/>
<polygon points="310.3,286.5 324.2,286.5 323.6,313.4 309.7,313.4" fill="#dfe6e0"/>
<polygon points="424.9,286.5 426.4,286.5 425.8,313.4 424.3,313.4" fill="#dfe6e0"/>
<polygon points="427.8,286.5 431.8,286.5 431.2,313.4 427.2,313.4" fill="#dfe6e0"/>
<polygon points="434.7,286.5 463.1,286.5 462.5,313.4 434.1,313.4" fill="#dfe6e0"/>
<polygon points="282.4,335.3 286.6,335.3 288.6,361.8 284.4,361.8" fill="#dfe6e0"/>
<polygon points="289.3,335.3 305.2,335.3 307.2,361.8 291.3,361.8" fill="#dfe6e0"/>
<polygon points="309.7,335.3 323.6,335.3 325.6,361.8 311.7,361.8" fill="#dfe6e0"/>
<polygon points="424.3,335.3 425.8,335.3 427.8,361.8 426.3,361.8" fill="#dfe6e0"/>
<polygon points="427.2,335.3 431.2,335.3 433.2,361.8 429.2,361.8" fill="#dfe6e0"/>
<polygon points="434.1,335.3 462.5,335.3 464.5,361.8 436.1,361.8" fill="#dfe6e0"/>
<polygon points="284.4,381.6 288.6,381.6 287.6,409.3 283.4,409.3" fill="#dfe6e0"/>
<polygon points="291.3,381.6 307.2,381.6 306.2,409.3 290.3,409.3" fill="#dfe6e0"/>
<polygon points="311.7,381.6 325.6,381.6 324.6,409.3 310.7,409.3" fill="#dfe6e0"/>
<polygon points="426.3,381.6 427.8,381.6 426.8,409.3 425.3,409.3" fill="#dfe6e0"/>
<polygon points="429.2,381.6 433.2,381.6 432.2,409.3 428.2,409.3" fill="#dfe6e0"/>
<polygon points="436.1,381.6 464.5,381.6 463.5,409.3 435.1,409.3" fill="#dfe6e0"/>
<polygon points="283.4,429.2 287.6,429.2 286.9,454.8 282.7,454.8" fill="#dfe6e0"/>
<polygon points="290.3,429.2 306.2,429.2 305.5,454.8 289.6,454.8" fill="#dfe6e0"/>
<polygon points="310.7,429.2 324.6,429.2 323.9,454.8 310.0,454.8" fill="#dfe6e0"/>
<polygon points="425.3,429.2 426.8,429.2 426.1,454.8 424.6,454.8" fill="#dfe6e0"/>
<polygon points="428.2,429.2 432.2,429.2 431.5,454.8 427.5,454.8" fill="#dfe6e0"/>
<polygon points="435.1,429.2 463.5,429.2 462.8,454.8 434.4,454.8" fill="#dfe6e0"/>
<polygon points="501.9,383.9 507.5,383.9 507.1,410.6 501.5,410.6" fill="#dfe6e0"/>
<polygon points="509.1,383.9 519.5,383.9 519.1,410.6 508.7,410.6" fill="#dfe6e0"/>
<polygon points="521.6,383.9 529.3,383.9 528.9,410.6 521.2,410.6" fill="#dfe6e0"/>
<polygon points="612.3,383.9 613.6,383.9 613.2,410.6 611.9,410.6" fill="#dfe6e0"/>
<polygon points="614.3,383.9 621.6,383.9 621.2,410.6 613.9,410.6" fill="#dfe6e0"/>
<polygon points="623.2,383.9 630.1,383.9 629.7,410.6 622.8,410.6" fill="#dfe6e0"/>
<polygon points="631.5,383.9 641.2,383.9 640.8,410.6 631.1,410.6" fill="#dfe6e0"/>
</g>
<g id="dashes2">
<line x1="74.6" y1="301.2" x2="683" y2="298.3" stroke="#a3a3a3" stroke-width="1.5" stroke-dasharray="3.4 3.3"/>
<line x1="74.6" y1="348.2" x2="683" y2="345.3" stroke="#a3a3a3" stroke-width="1.5" stroke-dasharray="3.4 3.3"/>
<line x1="74.6" y1="395.3" x2="683" y2="392.4" stroke="#a3a3a3" stroke-width="1.5" stroke-dasharray="3.4 3.3"/>
<line x1="74.6" y1="442.3" x2="683" y2="439.4" stroke="#a3a3a3" stroke-width="1.5" stroke-dasharray="3.4 3.3"/>
</g>
<g id="panel-e2" font-family="Liberation Sans, Arial, Helvetica, sans-serif" font-size="7.7" fill="#111" stroke="#111" stroke-width="0.12">
<line x1="278.0" y1="278.0" x2="468.3" y2="278.0" stroke="#000" stroke-width="1.3"/>
<path d="M282.3 273.0H282.3L288.2 278.0L282.3 283.0H282.3Z" fill="#d3cdb8" stroke="#000" stroke-width="1.3" stroke-linejoin="miter"/>
<path d="M289.6 273.0H301.5L307.1 278.0L301.5 283.0H289.6Z" fill="#d3cdb8" stroke="#000" stroke-width="1.3" stroke-linejoin="miter"/>
<path d="M308.5 273.0H319.4L325.0 278.0L319.4 283.0H308.5Z" fill="#d3cdb8" stroke="#000" stroke-width="1.3" stroke-linejoin="miter"/>
<path d="M326.4 273.0H417.3L422.6 278.0L417.3 283.0H326.4Z" fill="#a00000" stroke="#000" stroke-width="1.3" stroke-linejoin="miter"/>
<line x1="371.0" y1="284.6" x2="378.6" y2="271.4" stroke="#222" stroke-width="3"/>
<line x1="371.0" y1="284.6" x2="378.6" y2="271.4" stroke="#fff" stroke-width="1.6"/>
<path d="M423.1 273.0H423.1L427.1 278.0L423.1 283.0H423.1Z" fill="#d3cdb8" stroke="#000" stroke-width="1.3" stroke-linejoin="miter"/>
<path d="M427.5 273.0H427.5L433.0 278.0L427.5 283.0H427.5Z" fill="#d3cdb8" stroke="#000" stroke-width="1.3" stroke-linejoin="miter"/>
<path d="M434.3 273.0H458.3L463.6 278.0L458.3 283.0H434.3Z" fill="#d3cdb8" stroke="#000" stroke-width="1.3" stroke-linejoin="miter"/>
<text transform="translate(284.7,270.2) rotate(-30)" text-anchor="start" font-style="italic">algU_3</text>
<text transform="translate(316.5,269.9) rotate(-30)" text-anchor="start" font-style="italic">exoI_1</text>
<text transform="translate(373.0,268.9) rotate(-30)" text-anchor="start">ΦWilby</text>
<text transform="translate(425.2,269.6) rotate(-30)" text-anchor="start" font-style="italic">mgsR</text>
<text transform="translate(449.0,270.0) rotate(-30)" text-anchor="start">P26_TBDR</text>
<text transform="translate(423.0,286.0) rotate(-55)" text-anchor="end">tRNA</text>
<line x1="277.4" y1="324.9" x2="467.7" y2="324.9" stroke="#000" stroke-width="1.3"/>
<path d="M281.7 319.9H281.7L287.6 324.9L281.7 329.9H281.7Z" fill="#d3cdb8" stroke="#000" stroke-width="1.3" stroke-linejoin="miter"/>
<path d="M289.0 319.9H300.9L306.5 324.9L300.9 329.9H289.0Z" fill="#d3cdb8" stroke="#000" stroke-width="1.3" stroke-linejoin="miter"/>
<path d="M307.9 319.9H318.8L324.4 324.9L318.8 329.9H307.9Z" fill="#d3cdb8" stroke="#000" stroke-width="1.3" stroke-linejoin="miter"/>
<path d="M325.8 319.9H416.7L422.0 324.9L416.7 329.9H325.8Z" fill="#a00000" stroke="#000" stroke-width="1.3" stroke-linejoin="miter"/>
<line x1="370.4" y1="331.5" x2="378.0" y2="318.3" stroke="#222" stroke-width="3"/>
<line x1="370.4" y1="331.5" x2="378.0" y2="318.3" stroke="#fff" stroke-width="1.6"/>
<path d="M422.5 319.9H422.5L426.5 324.9L422.5 329.9H422.5Z" fill="#d3cdb8" stroke="#000" stroke-width="1.3" stroke-linejoin="miter"/>
<path d="M426.9 319.9H426.9L432.4 324.9L426.9 329.9H426.9Z" fill="#d3cdb8" stroke="#000" stroke-width="1.3" stroke-linejoin="miter"/>
<path d="M433.7 319.9H457.7L463.0 324.9L457.7 329.9H433.7Z" fill="#d3cdb8" stroke="#000" stroke-width="1.3" stroke-linejoin="miter"/>
<text transform="translate(284.1,317.1) rotate(-30)" text-anchor="start" font-style="italic">algU_3</text>
<text transform="translate(315.9,316.8) rotate(-30)" text-anchor="start" font-style="italic">exoI_1</text>
<text transform="translate(372.4,315.8) rotate(-30)" text-anchor="start">ΦWilby</text>
<text transform="translate(424.6,316.5) rotate(-30)" text-anchor="start" font-style="italic">mgsR</text>
<text transform="translate(448.4,316.9) rotate(-30)" text-anchor="start">P26_TBDR</text>
<text transform="translate(422.4,332.9) rotate(-55)" text-anchor="end">tRNA</text>
<line x1="279.4" y1="371.9" x2="469.7" y2="371.9" stroke="#000" stroke-width="1.3"/>
<path d="M283.7 366.9H283.7L289.6 371.9L283.7 376.9H283.7Z" fill="#d3cdb8" stroke="#000" stroke-width="1.3" stroke-linejoin="miter"/>
<path d="M291.0 366.9H302.9L308.5 371.9L302.9 376.9H291.0Z" fill="#d3cdb8" stroke="#000" stroke-width="1.3" stroke-linejoin="miter"/>
<path d="M309.9 366.9H320.8L326.4 371.9L320.8 376.9H309.9Z" fill="#d3cdb8" stroke="#000" stroke-width="1.3" stroke-linejoin="miter"/>
<path d="M327.8 366.9H418.7L424.0 371.9L418.7 376.9H327.8Z" fill="#a00000" stroke="#000" stroke-width="1.3" stroke-linejoin="miter"/>
<line x1="372.4" y1="378.5" x2="380.0" y2="365.3" stroke="#222" stroke-width="3"/>
<line x1="372.4" y1="378.5" x2="380.0" y2="365.3" stroke="#fff" stroke-width="1.6"/>
<path d="M424.5 366.9H424.5L428.5 371.9L424.5 376.9H424.5Z" fill="#d3cdb8" stroke="#000" stroke-width="1.3" stroke-linejoin="miter"/>
<path d="M428.9 366.9H428.9L434.4 371.9L428.9 376.9H428.9Z" fill="#d3cdb8" stroke="#000" stroke-width="1.3" stroke-linejoin="miter"/>
<path d="M435.7 366.9H459.7L465.0 371.9L459.7 376.9H435.7Z" fill="#d3cdb8" stroke="#000" stroke-width="1.3" stroke-linejoin="miter"/>
<text transform="translate(286.1,364.1) rotate(-30)" text-anchor="start" font-style="italic">algU_3</text>
<text transform="translate(317.9,363.8) rotate(-30)" text-anchor="start" font-style="italic">exoI_1</text>
<text transform="translate(374.4,362.8) rotate(-30)" text-anchor="start">ΦWilby</text>
<text transform="translate(426.6,363.5) rotate(-30)" text-anchor="start" font-style="italic">mgsR</text>
<text transform="translate(450.4,363.9) rotate(-30)" text-anchor="start">P26_TBDR</text>
<text transform="translate(424.4,379.9) rotate(-55)" text-anchor="end">tRNA</text>
<line x1="278.4" y1="420.0" x2="468.7" y2="420.0" stroke="#000" stroke-width="1.3"/>
<path d="M282.7 415.0H282.7L288.6 420.0L282.7 425.0H282.7Z" fill="#d3cdb8" stroke="#000" stroke-width="1.3" stroke-linejoin="miter"/>
<path d="M290.0 415.0H301.9L307.5 420.0L301.9 425.0H290.0Z" fill="#d3cdb8" stroke="#000" stroke-width="1.3" stroke-linejoin="miter"/>
<path d="M308.9 415.0H319.8L325.4 420.0L319.8 425.0H308.9Z" fill="#d3cdb8" stroke="#000" stroke-width="1.3" stroke-linejoin="miter"/>
<path d="M326.8 415.0H417.7L423.0 420.0L417.7 425.0H326.8Z" fill="#a00000" stroke="#000" stroke-width="1.3" stroke-linejoin="miter"/>
<line x1="371.4" y1="426.6" x2="379.0" y2="413.4" stroke="#222" stroke-width="3"/>
<line x1="371.4" y1="426.6" x2="379.0" y2="413.4" stroke="#fff" stroke-width="1.6"/>
<path d="M423.5 415.0H423.5L427.5 420.0L423.5 425.0H423.5Z" fill="#d3cdb8" stroke="#000" stroke-width="1.3" stroke-linejoin="miter"/>
<path d="M427.9 415.0H427.9L433.4 420.0L427.9 425.0H427.9Z" fill="#d3cdb8" stroke="#000" stroke-width="1.3" stroke-linejoin="miter"/>
<path d="M434.7 415.0H458.7L464.0 420.0L458.7 425.0H434.7Z" fill="#d3cdb8" stroke="#000" stroke-width="1.3" stroke-linejoin="miter"/>
<text transform="translate(285.1,412.2) rotate(-30)" text-anchor="start" font-style="italic">algU_3</text>
<text transform="translate(316.9,411.9) rotate(-30)" text-anchor="start" font-style="italic">exoI_1</text>
<text transform="translate(373.4,410.9) rotate(-30)" text-anchor="start">ΦWilby</text>
<text transform="translate(425.6,411.6) rotate(-30)" text-anchor="start" font-style="italic">mgsR</text>
<text transform="translate(449.4,412.0) rotate(-30)" text-anchor="start">P26_TBDR</text>
<text transform="translate(423.4,428.0) rotate(-55)" text-anchor="end">tRNA</text>
<line x1="277.7" y1="465.8" x2="468.0" y2="465.8" stroke="#000" stroke-width="1.3"/>
<path d="M282.0 460.8H282.0L287.9 465.8L282.0 470.8H282.0Z" fill="#d3cdb8" stroke="#000" stroke-width="1.3" stroke-linejoin="miter"/>
<path d="M289.3 460.8H301.2L306.8 465.8L301.2 470.8H289.3Z" fill="#d3cdb8" stroke="#000" stroke-width="1.3" stroke-linejoin="miter"/>
<path d="M308.2 460.8H319.1L324.7 465.8L319.1 470.8H308.2Z" fill="#d3cdb8" stroke="#000" stroke-width="1.3" stroke-linejoin="miter"/>
<path d="M326.1 460.8H417.0L422.3 465.8L417.0 470.8H326.1Z" fill="#a00000" stroke="#000" stroke-width="1.3" stroke-linejoin="miter"/>
<line x1="370.7" y1="472.4" x2="378.3" y2="459.2" stroke="#222" stroke-width="3"/>
<line x1="370.7" y1="472.4" x2="378.3" y2="459.2" stroke="#fff" stroke-width="1.6"/>
<path d="M422.8 460.8H422.8L426.8 465.8L422.8 470.8H422.8Z" fill="#d3cdb8" stroke="#000" stroke-width="1.3" stroke-linejoin="miter"/>
<path d="M427.2 460.8H427.2L432.7 465.8L427.2 470.8H427.2Z" fill="#d3cdb8" stroke="#000" stroke-width="1.3" stroke-linejoin="miter"/>
<path d="M434.0 460.8H458.0L463.3 465.8L458.0 470.8H434.0Z" fill="#d3cdb8" stroke="#000" stroke-width="1.3" stroke-linejoin="miter"/>
<text transform="translate(284.4,458.0) rotate(-30)" text-anchor="start" font-style="italic">algU_3</text>
<text transform="translate(316.2,457.7) rotate(-30)" text-anchor="start" font-style="italic">exoI_1</text>
<text transform="translate(372.7,456.7) rotate(-30)" text-anchor="start">ΦWilby</text>
<text transform="translate(424.9,457.4) rotate(-30)" text-anchor="start" font-style="italic">mgsR</text>
<text transform="translate(448.7,457.8) rotate(-30)" text-anchor="start">P26_TBDR</text>
<text transform="translate(422.7,473.8) rotate(-55)" text-anchor="end">tRNA</text>
<line x1="495.4" y1="278.0" x2="683.5" y2="278.0" stroke="#000" stroke-width="1.3"/>
<path d="M500.4 273.0H509.1L514.7 278.0L509.1 283.0H500.4Z" fill="#d3cdb8" stroke="#000" stroke-width="1.3" stroke-linejoin="miter"/>
<path d="M515.6 273.0H546.8L552.8 278.0L546.8 283.0H515.6Z" fill="#d3cdb8" stroke="#000" stroke-width="1.3" stroke-linejoin="miter"/>
<path d="M553.7 273.0H553.7L558.9 278.0L553.7 283.0H553.7Z" fill="#d3cdb8" stroke="#000" stroke-width="1.3" stroke-linejoin="miter"/>
<path d="M559.5 273.0H635.2L640.2 278.0L635.2 283.0H559.5Z" fill="#666666" stroke="#000" stroke-width="1.3" stroke-linejoin="miter"/>
<line x1="596.2" y1="284.6" x2="604.0" y2="271.4" stroke="#222" stroke-width="3"/>
<line x1="596.2" y1="284.6" x2="604.0" y2="271.4" stroke="#fff" stroke-width="1.6"/>
<rect x="640.6" y="272.4" width="1.8" height="11.2" fill="#000"/>
<path d="M641.8 273.0H645.1L651.4 278.0L645.1 283.0H641.8Z" fill="#d3cdb8" stroke="#000" stroke-width="1.3" stroke-linejoin="miter"/>
<path d="M652.3 273.0H652.3L659.2 278.0L652.3 283.0H652.3Z" fill="#d3cdb8" stroke="#000" stroke-width="1.3" stroke-linejoin="miter"/>
<path d="M661.0 273.0H673.2L678.4 278.0L673.2 283.0H661.0Z" fill="#d3cdb8" stroke="#000" stroke-width="1.3" stroke-linejoin="miter"/>
<text transform="translate(507.8,270.6) rotate(-30)" text-anchor="start" font-style="italic">rapZ</text>
<text transform="translate(556.2,270.6) rotate(-30)" text-anchor="start" font-style="italic">tal</text>
<text transform="translate(592.0,270.5) rotate(-30)" text-anchor="start">ΦPomma</text>
<text transform="translate(643.0,270.4) rotate(-30)" text-anchor="start" font-style="italic">fbaB</text>
<text transform="translate(656.3,269.8) rotate(-30)" text-anchor="start" font-style="italic">gpmA</text>
<line x1="495" y1="327.4" x2="658.8" y2="327.4" stroke="#000" stroke-width="1.3"/>
<path d="M499.2 322.4H499.2L501.9 327.4L499.2 332.4H499.2Z" fill="#d3cdb8" stroke="#000" stroke-width="1.3" stroke-linejoin="miter"/>
<path d="M502.4 322.4H509.8L515.2 327.4L509.8 332.4H502.4Z" fill="#d3cdb8" stroke="#000" stroke-width="1.3" stroke-linejoin="miter"/>
<path d="M523.3 322.4H523.3L527.0 327.4L523.3 332.4H523.3Z" fill="#d3cdb8" stroke="#000" stroke-width="1.3" stroke-linejoin="miter"/>
<path d="M527.3 322.4H603.1L608.2 327.4L603.1 332.4H527.3Z" fill="#666666" stroke="#000" stroke-width="1.3" stroke-linejoin="miter"/>
<line x1="563.2" y1="334.0" x2="572.3" y2="320.8" stroke="#222" stroke-width="3"/>
<line x1="563.2" y1="334.0" x2="572.3" y2="320.8" stroke="#fff" stroke-width="1.6"/>
<path d="M617.3 322.4H628.0L633.6 327.4L628.0 332.4H617.3Z" fill="#d3cdb8" stroke="#000" stroke-width="1.3" stroke-linejoin="miter"/>
<path d="M634.5 322.4H634.5L640.8 327.4L634.5 332.4H634.5Z" fill="#d3cdb8" stroke="#000" stroke-width="1.3" stroke-linejoin="miter"/>
<path d="M641.5 322.4H648.9L654.2 327.4L648.9 332.4H641.5Z" fill="#d3cdb8" stroke="#000" stroke-width="1.3" stroke-linejoin="miter"/>
<text transform="translate(509.0,319.0) rotate(-30)" text-anchor="start" font-style="italic">creD</text>
<text transform="translate(562.5,320.6) rotate(-30)" text-anchor="start">ΦPomma</text>
<text transform="translate(648.2,318.5) rotate(-30)" text-anchor="start" font-style="italic">potD</text>
<line x1="496.2" y1="372.9" x2="646.8" y2="372.9" stroke="#000" stroke-width="1.3"/>
<path d="M500.8 367.9H503.4L508.0 372.9L503.4 377.9H500.8Z" fill="#d3cdb8" stroke="#000" stroke-width="1.3" stroke-linejoin="miter"/>
<path d="M508.8 367.9H513.9L519.5 372.9L513.9 377.9H508.8Z" fill="#d3cdb8" stroke="#000" stroke-width="1.3" stroke-linejoin="miter"/>
<path d="M521.2 367.9H524.3L530.0 372.9L524.3 377.9H521.2Z" fill="#d3cdb8" stroke="#000" stroke-width="1.3" stroke-linejoin="miter"/>
<path d="M530.5 367.9H606.6L611.6 372.9L606.6 377.9H530.5Z" fill="#666666" stroke="#000" stroke-width="1.3" stroke-linejoin="miter"/>
<line x1="567.2" y1="379.5" x2="576.0" y2="366.3" stroke="#222" stroke-width="3"/>
<line x1="567.2" y1="379.5" x2="576.0" y2="366.3" stroke="#fff" stroke-width="1.6"/>
<path d="M611.9 367.9H611.9L613.6 372.9L611.9 377.9H611.9Z" fill="#d3cdb8" stroke="#000" stroke-width="1.3" stroke-linejoin="miter"/>
<path d="M614.1 367.9H617.0L621.6 372.9L617.0 377.9H614.1Z" fill="#d3cdb8" stroke="#000" stroke-width="1.3" stroke-linejoin="miter"/>
<path d="M622.8 367.9H625.8L630.4 372.9L625.8 377.9H622.8Z" fill="#d3cdb8" stroke="#000" stroke-width="1.3" stroke-linejoin="miter"/>
<path d="M631.6 367.9H636.7L641.3 372.9L636.7 377.9H631.6Z" fill="#d3cdb8" stroke="#000" stroke-width="1.3" stroke-linejoin="miter"/>
<text transform="translate(510.7,356.3) rotate(-30)" text-anchor="start">Glycosyl-</text>
<text transform="translate(516.4,365.1) rotate(-30)" text-anchor="start">transferase</text>
<text transform="translate(566.5,366.9) rotate(-30)" text-anchor="start">ΦPomma</text>
<text transform="translate(618.0,365.2) rotate(-30)" text-anchor="start">O-Antigen conversion</text>
<line x1="495.4" y1="420.2" x2="645.7" y2="420.2" stroke="#000" stroke-width="1.3"/>
<path d="M500.0 415.2H502.9L507.5 420.2L502.9 425.2H500.0Z" fill="#d3cdb8" stroke="#000" stroke-width="1.3" stroke-linejoin="miter"/>
<path d="M508.4 415.2H513.4L519.0 420.2L513.4 425.2H508.4Z" fill="#d3cdb8" stroke="#000" stroke-width="1.3" stroke-linejoin="miter"/>
<path d="M520.4 415.2H523.8L529.5 420.2L523.8 425.2H520.4Z" fill="#d3cdb8" stroke="#000" stroke-width="1.3" stroke-linejoin="miter"/>
<path d="M530.1 415.2H606.1L611.1 420.2L606.1 425.2H530.1Z" fill="#666666" stroke="#000" stroke-width="1.3" stroke-linejoin="miter"/>
<line x1="566.3" y1="426.8" x2="575.5" y2="413.6" stroke="#222" stroke-width="3"/>
<line x1="566.3" y1="426.8" x2="575.5" y2="413.6" stroke="#fff" stroke-width="1.6"/>
<path d="M611.5 415.2H611.5L613.1 420.2L611.5 425.2H611.5Z" fill="#d3cdb8" stroke="#000" stroke-width="1.3" stroke-linejoin="miter"/>
<path d="M613.6 415.2H616.5L621.1 420.2L616.5 425.2H613.6Z" fill="#d3cdb8" stroke="#000" stroke-width="1.3" stroke-linejoin="miter"/>
<path d="M622.1 415.2H625.0L629.6 420.2L625.0 425.2H622.1Z" fill="#d3cdb8" stroke="#000" stroke-width="1.3" stroke-linejoin="miter"/>
<path d="M630.8 415.2H636.0L640.8 420.2L636.0 425.2H630.8Z" fill="#d3cdb8" stroke="#000" stroke-width="1.3" stroke-linejoin="miter"/>
<text transform="translate(510.7,402.9) rotate(-30)" text-anchor="start">Glycosyl-</text>
<text transform="translate(516.4,411.8) rotate(-30)" text-anchor="start">transferase</text>
<text transform="translate(565.7,413.7) rotate(-30)" text-anchor="start">ΦPomma</text>
<text transform="translate(617.7,412.3) rotate(-30)" text-anchor="start">O-Antigen conversion</text>
<line x1="495.4" y1="465.7" x2="673" y2="465.7" stroke="#000" stroke-width="1.3"/>
<path d="M500.4 460.7H511.4L516.6 465.7L511.4 470.7H500.4Z" fill="#d3cdb8" stroke="#000" stroke-width="1.3" stroke-linejoin="miter"/>
<path d="M522.4 460.7H538.0L543.6 465.7L538.0 470.7H522.4Z" fill="#d3cdb8" stroke="#000" stroke-width="1.3" stroke-linejoin="miter"/>
<path d="M548.1 460.7H624.1L629.6 465.7L624.1 470.7H548.1Z" fill="#666666" stroke="#000" stroke-width="1.3" stroke-linejoin="miter"/>
<line x1="584.4" y1="472.3" x2="593.3" y2="459.1" stroke="#222" stroke-width="3"/>
<line x1="584.4" y1="472.3" x2="593.3" y2="459.1" stroke="#fff" stroke-width="1.6"/>
<path d="M631.0 460.7H638.9L644.4 465.7L638.9 470.7H631.0Z" fill="#d3cdb8" stroke="#000" stroke-width="1.3" stroke-linejoin="miter"/>
<path d="M645.4 460.7H663.7L668.6 465.7L663.7 470.7H645.4Z" fill="#d3cdb8" stroke="#000" stroke-width="1.3" stroke-linejoin="miter"/>
<path d="M669.4 460.7H669.4L673.3 465.7L669.4 470.7H669.4Z" fill="#d3cdb8" stroke="#000" stroke-width="1.3" stroke-linejoin="miter"/>
<text transform="translate(508.5,456.9) rotate(-30)" text-anchor="start" font-style="italic">kdpA</text>
<text transform="translate(584.3,459.7) rotate(-30)" text-anchor="start">ΦPomma</text>
<text transform="translate(638.2,457.7) rotate(-30)" text-anchor="start">AtoC_1</text>
<text transform="translate(657.2,458.2) rotate(-30)" text-anchor="start">RNR</text>
<line x1="347" y1="488.7" x2="347" y2="502.4" stroke="#333" stroke-width="1"/>
<rect x="340.2" y="491" width="13.7" height="9.3" fill="#e08a8c" stroke="#333" stroke-width="1"/>
<line x1="340.2" y1="495.6" x2="353.9" y2="495.6" stroke="#333" stroke-width="1"/>
<circle cx="347" cy="495.6" r="2.8" fill="#a00000" stroke="#222" stroke-width="0.8"/>
<text x="358.2" y="498.6">ΦWilby</text>
<line x1="553.1" y1="488.7" x2="553.1" y2="502.4" stroke="#333" stroke-width="1"/>
<rect x="546.4" y="491" width="13.6" height="9.3" fill="#b5b5b5" stroke="#333" stroke-width="1"/>
<line x1="546.4" y1="495.6" x2="560" y2="495.6" stroke="#333" stroke-width="1"/>
<circle cx="553.1" cy="495.6" r="2.8" fill="#5a5a5a" stroke="#222" stroke-width="0.8"/>
<text x="564" y="498.6">ΦPomma</text>
</g>
</svg>
</body></html>
